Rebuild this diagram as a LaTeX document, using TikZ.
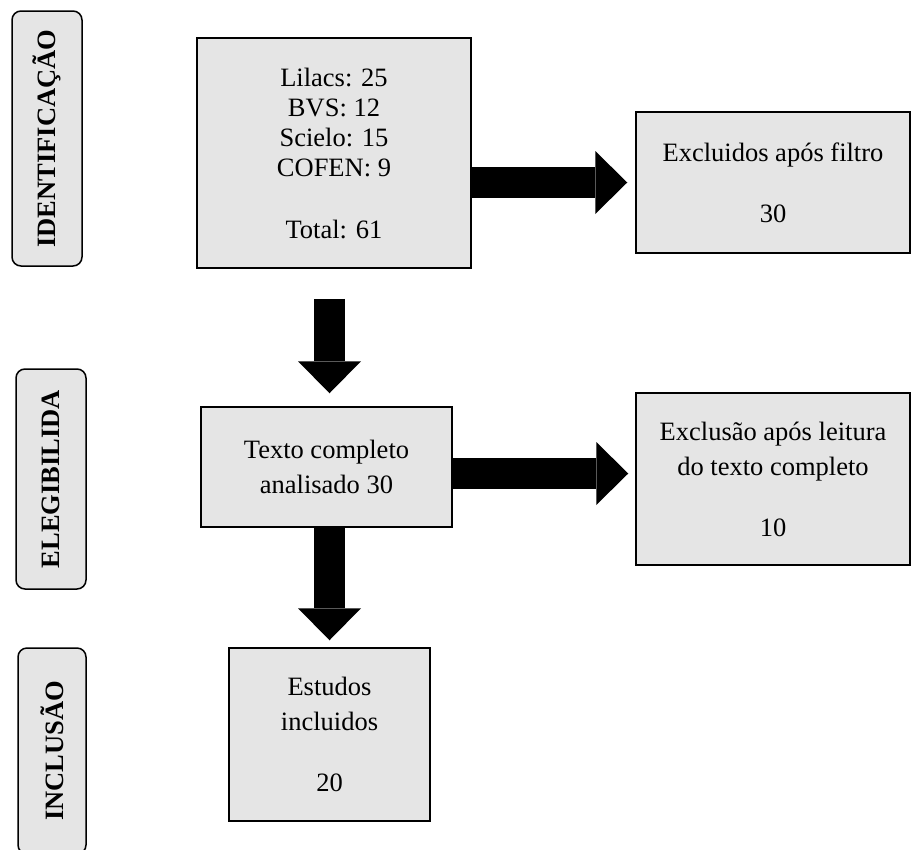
\documentclass[tikz,border=0pt]{standalone}
\usepackage{fontspec}
\setmainfont{Liberation Serif}
\usepackage{xcolor}
\usetikzlibrary{arrows.meta,calc}
\definecolor{boxgray}{RGB}{229,229,229}
\tikzset{
	stage/.style={draw, line width=1.5pt, fill=boxgray, rounded corners=9pt, rotate=90,
			inner sep=0pt, font=\bfseries\fontsize{26.5}{30}\selectfont},
	box/.style={draw, line width=1.5pt, fill=boxgray, align=center, inner sep=0pt,
			font=\fontsize{26.5}{35}\selectfont},
	bigarrow/.style={line width=31pt, -{Triangle[length=32pt,width=63pt,line width=0pt]}}
}

\begin{document}
\begin{tikzpicture}[x=1pt, y=-1pt]
		\useasboundingbox (0,0) rectangle (912,849);

		% Stages
		\node[stage, minimum width=255pt, minimum height=70pt] (ident-stage) at (47,138.5) {IDENTIFICAÇÃO};
		\node[stage, minimum width=220pt, minimum height=70pt] (eleg-stage) at (51,479) {ELEGIBILIDA};
		\node[stage, minimum width=206pt, minimum height=68pt] (incl-stage) at (52,751) {INCLUSÃO};

		% Boxes
		\node[box, minimum width=274pt, minimum height=230pt, font=\fontsize{26.5}{30}\selectfont]
			(ident) at (334,153) {Lilacs: 25\\BVS: 12\\Scielo: 15\\COFEN: 9\\[32pt]Total: 61};
		\node[box, minimum width=274pt, minimum height=141pt] (excl) at (773,182.5) {Excluidos após filtro\\[26pt]30};
		\node[box, minimum width=251pt, minimum height=120pt] (texto) at (326.5,467) {Texto completo\\analisado 30};
		\node[box, minimum width=274pt, minimum height=172pt] (exclus) at (773,479) {Exclusão após leitura\\do texto completo\\[26pt]10};
		\node[box, minimum width=201pt, minimum height=173pt] (estudos) at (329.5,734.5) {Estudos\\incluidos\\[26pt]20};

		% Arrows
		\draw[bigarrow, shorten >=8pt] (ident.east |- excl.west) -- (excl.west);
		\draw[bigarrow, shorten <=30pt, shorten >=13pt] (estudos.north |- ident.south) -- (estudos.north |- texto.north);
		\draw[bigarrow, shorten >=7pt, transform canvas={yshift=-6.5pt}] (texto.east) -- (texto.east -| exclus.west);
		\draw[bigarrow, shorten >=7pt] (estudos.north |- texto.south) -- (estudos.north);
	\end{tikzpicture}
\end{document}
